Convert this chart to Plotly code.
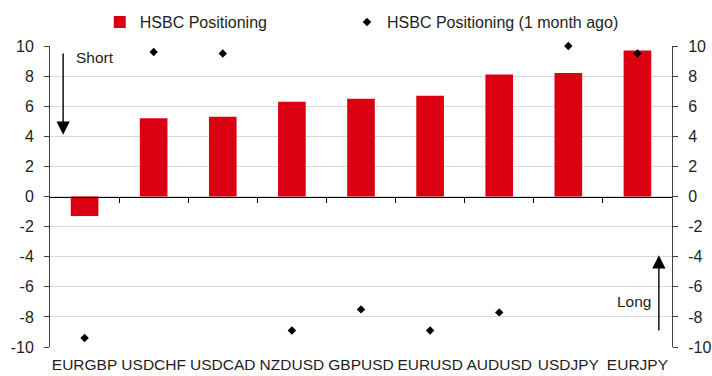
import plotly.graph_objects as go

# Currency pairs and positioning scores
pairs = ["EURGBP", "USDCHF", "USDCAD", "NZDUSD", "GBPUSD", "EURUSD", "AUDUSD", "USDJPY", "EURJPY"]
positioning_now = [-1.3, 5.2, 5.3, 6.3, 6.5, 6.7, 8.1, 8.2, 9.7]
positioning_1m_ago = [-9.4, 9.6, 9.5, -8.9, -7.5, -8.9, -7.7, 10.0, 9.5]

y_ticks = [-10, -8, -6, -4, -2, 0, 2, 4, 6, 8, 10]
y_tick_text = ["-10", "-8", "-6", "-4", "-2", "0", "2", "4", "6", "8", "10"]

RED = "#db0011"
INK = "#1e1e1e"
AXIS = "#404040"
FONT = "Liberation Sans, Arial, sans-serif"

fig = go.Figure()
fig.add_trace(go.Bar(
    x=pairs, y=positioning_now, name="HSBC Positioning",
    marker=dict(color=RED, line=dict(width=0)), legend="legend",
))
fig.add_trace(go.Scatter(
    x=pairs, y=positioning_1m_ago, name="HSBC Positioning (1 month ago)",
    mode="markers", marker=dict(symbol="diamond", size=6.5, color="black"),
    cliponaxis=False, legend="legend2",
))
# Empty helper trace so the zero-line axis and right-hand axis get drawn
fig.add_trace(go.Scatter(x=[None], y=[None], xaxis="x2", yaxis="y2",
                         mode="markers", showlegend=False, hoverinfo="skip"))

# Direction hints: short positions point down, long positions point up
arrow = dict(xref="x", yref="y", axref="x", ayref="y", text="", showarrow=True,
             arrowhead=2, arrowsize=1.9, arrowwidth=1.4, arrowcolor="black", standoff=0)
fig.add_annotation(x=-0.31, y=4.1, ax=-0.31, ay=9.6, **arrow)
fig.add_annotation(x=0.15, y=9.25, text="Short", showarrow=False,
                   font=dict(size=15.5, color=INK, family=FONT))
fig.add_annotation(x=8.31, y=-3.9, ax=8.31, ay=-9.0, **arrow)
fig.add_annotation(x=7.95, y=-7.0, text="Long", showarrow=False,
                   font=dict(size=15.5, color=INK, family=FONT))

legend_style = dict(orientation="h", yref="container", y=0.9415, yanchor="middle",
                    xanchor="left", font=dict(size=16, color=INK, family=FONT),
                    bgcolor="rgba(0,0,0,0)", itemclick=False, itemdoubleclick=False)

fig.update_layout(
    template="none",
    width=712, height=376,
    margin=dict(l=50, r=40, t=46, b=29),
    paper_bgcolor="white", plot_bgcolor="white",
    font=dict(family=FONT, size=15.5, color=INK),
    bargap=0.6,
    showlegend=True,
    legend=dict(x=0.080, **legend_style),
    legend2=dict(x=0.4775, **legend_style),
    xaxis=dict(type="category", range=[-0.5, 8.5], showline=False, ticks="",
               showgrid=False, zeroline=False, automargin=False,
               ticklabelstandoff=6, tickfont=dict(size=15.5, color=INK)),
    # Category separators along the zero line
    xaxis2=dict(overlaying="x", anchor="free", position=0.5, range=[-0.5, 8.5],
                tickvals=[0.5, 1.5, 2.5, 3.5, 4.5, 5.5, 6.5, 7.5], showticklabels=False,
                ticks="outside", ticklen=5, tickcolor="black", tickwidth=1, showline=True,
                linecolor="black", linewidth=1, showgrid=False, zeroline=False,
                automargin=False),
    yaxis=dict(range=[-10, 10], tickvals=y_ticks, ticktext=y_tick_text,
               ticks="outside", ticklen=5, tickcolor=AXIS, tickwidth=1, showline=True,
               linecolor=AXIS, linewidth=1, showgrid=True, gridcolor="#d9d9d9",
               gridwidth=1, zeroline=False, automargin=False, ticklabelstandoff=7,
               tickfont=dict(size=16, color=INK)),
    yaxis2=dict(overlaying="y", side="right", anchor="x", range=[-10, 10],
                tickvals=y_ticks, ticktext=y_tick_text, ticks="outside", ticklen=5,
                tickcolor=AXIS, tickwidth=1, showline=True, linecolor=AXIS, linewidth=1,
                showgrid=False, zeroline=False, automargin=False, ticklabelstandoff=7,
                tickfont=dict(size=16, color=INK)),
)

fig.write_html("out.html")
